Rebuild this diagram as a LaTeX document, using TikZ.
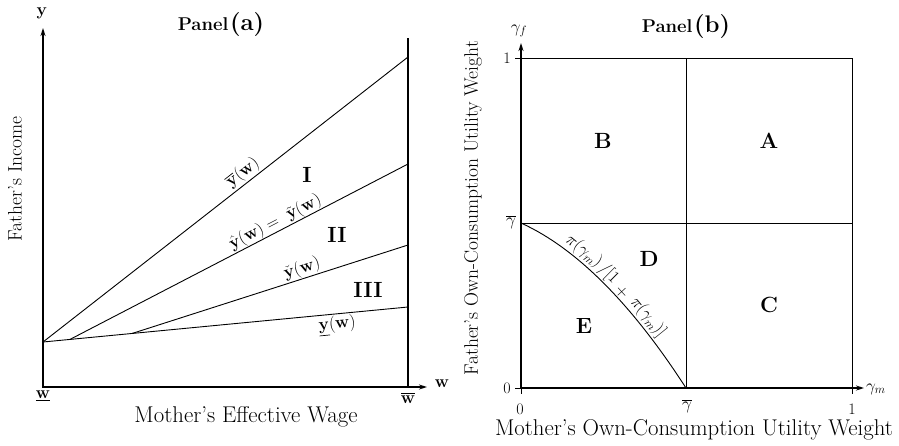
\documentclass[tikz,border=0pt]{standalone}
\usepackage{amsmath}
\usetikzlibrary{arrows.meta}
\begin{document}
\begin{tikzpicture}[x=1pt,y=-1pt,
  axis/.style={line width=1.8pt},
  arrowaxis/.style={axis,{Stealth[length=8pt,width=5pt]}-{Stealth[length=8pt,width=5pt]}},
  fline/.style={line width=0.9pt},
  thinline/.style={line width=0.75pt},
  lbl/.style={font=\fontsize{17}{20}\selectfont, inner sep=1pt},
  axlbl/.style={font=\fontsize{18}{21}\selectfont, inner sep=1pt},
  cl/.style={font=\fontsize{17}{20}\selectfont, inner sep=1.2pt, sloped, anchor=south},
  region/.style={font=\fontsize{22}{26}\selectfont\bfseries},
  axtitle/.style={font=\fontsize{22.8}{26}\selectfont},
  sidetitle/.style={font=\fontsize{19.5}{22}\selectfont, rotate=90},
  tick/.style={font=\fontsize{16}{19}\selectfont, inner sep=1pt}]
\useasboundingbox (0,0) rectangle (899,445);

% ---------------- Panel (a)
\coordinate (aYtop) at (43,28);
\coordinate (aO) at (43,387);
\coordinate (aXend) at (427,387);
\coordinate (aRtop) at (408,38);
\coordinate (aRbot) at (408,387);
\draw[arrowaxis] (aYtop) -- (aO) -- (aXend);
\draw[axis] (aRtop) -- (aRbot);

\coordinate (P0) at (43,342);
\coordinate (P1) at (70,339.4);
\coordinate (P2) at (132,333.5);
\coordinate (E1) at (408,57);
\coordinate (E2) at (408,164);
\coordinate (E3) at (408,245);
\coordinate (E4) at (408,307);
\draw[fline] (P0) -- (E1) node[lbl, pos=0.565, sloped, anchor=south, inner sep=1.5pt] (l1) {$\overline{\mathbf{y}}(\mathbf{w})$};
\draw[fline] (P1) -- (E2) node[lbl, pos=0.62, sloped, anchor=south, inner sep=0.3pt] (l2) {$\hat{\mathbf{y}}(\mathbf{w}) =\ \tilde{\mathbf{y}}(\mathbf{w})$};
\draw[fline] (P2) -- (E3) node[lbl, pos=0.627, sloped, anchor=south, inner sep=0.8pt] (l3) {$\check{\mathbf{y}}(\mathbf{w})$};
\draw[fline] (P0) -- (E4) node[lbl, pos=0.803, sloped, anchor=north, inner sep=1.2pt] (l4) {$\underline{\mathbf{y}}(\mathbf{w})$};

\node[region] (rI) at (307,175) {I};
\node[region] (rII) at (337,235) {II};
\node[region] (rIII) at (368,290) {III};

\node[axlbl] (ay) at (42,13) {$\mathbf{y}$};
\node[axlbl] (aw) at (442,384) {$\mathbf{w}$};
\node[axlbl] (awl) at (43,396) {$\underline{\mathbf{w}}$};
\node[axlbl] (awh) at (408,398) {$\overline{\mathbf{w}}$};
\node[axtitle] (axa) at (246,417) {Mother's Effective Wage};
\node[sidetitle] (aya) at (15,179) {Father's Income};
\node (pa) at (221,25) {{\fontsize{18.5}{21}\selectfont\bfseries Panel}\,{\fontsize{24}{28}\selectfont\bfseries (a)}};

% ---------------- Panel (b)
\coordinate (bYtop) at (521,43);
\coordinate (bO) at (521,388);
\coordinate (bXend) at (864,388);
\coordinate (bTL) at (521,58);
\coordinate (bTR) at (852,58);
\coordinate (bBR) at (852,388);
\coordinate (bMT) at (686,58);
\coordinate (bMB) at (686,388);
\coordinate (bML) at (521,223);
\coordinate (bMR) at (852,223);
\draw[thinline] (bTL) -- (bTR) -- (bBR);
\draw[thinline] (bMT) -- (bMB);
\draw[thinline] (bML) -- (bMR);
\draw[arrowaxis, line width=2pt] (bYtop) -- (bO) -- (bXend);
\draw[thinline] (515,58) -- (bTL);
\draw[thinline] (515,388) -- (bO);
\draw[thinline] (bO) -- (521,394);
\draw[thinline] (bBR) -- (852,394);

\draw[line width=0.9pt] (bML) .. controls (576.2,248.1) and (631.3,303.3) .. (bMB)
  node[cl, pos=0.34] (c1) {$\pi(\gamma_m)$}
  node[cl, pos=0.487] (c2) {$/[1$}
  node[cl, pos=0.578] (c3) {$+$}
  node[cl, pos=0.72] (c4) {$\pi(\gamma_m)]$};

\node[region] (rB) at (603,141) {B};
\node[region] (rA) at (769,141) {A};
\node[region] (rD) at (649,259) {D};
\node[region] (rC) at (769,305) {C};
\node[region] (rE) at (584,326) {E};

\node[tick, anchor=east] (t1) at (512,58) {1};
\node[tick, anchor=east] (t0) at (512,388) {0};
\node[tick, anchor=east] (tg) at (517,222) {$\overline{\gamma}$};
\node[tick] (b0) at (520,409) {0};
\node[tick] (bg) at (687,406) {$\overline{\gamma}$};
\node[tick] (b1) at (852,409) {1};
\node[tick, font=\fontsize{17}{20}\selectfont] (gf) at (519,31) {$\gamma_f$};
\node[tick, anchor=west, font=\fontsize{17}{20}\selectfont] (gm) at (865,389) {$\gamma_m$};
\node[axtitle] (bxa) at (694,430) {Mother's Own-Consumption Utility Weight};
\node[sidetitle] (bya) at (473,208) {Father's Own-Consumption Utility Weight};
\node (pb) at (686,27) {{\fontsize{18.5}{21}\selectfont\bfseries Panel}\,{\fontsize{24}{28}\selectfont\bfseries (b)}};
\end{tikzpicture}
\end{document}
